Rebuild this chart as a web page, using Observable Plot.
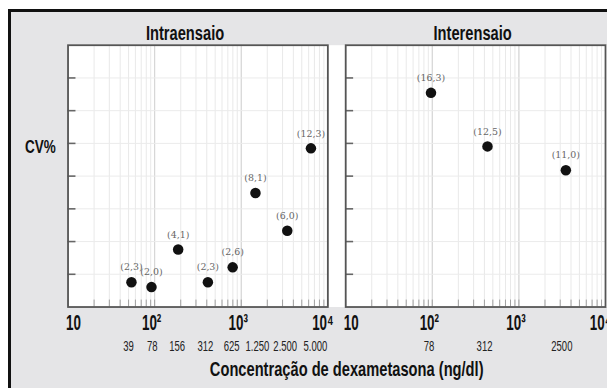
<!DOCTYPE html>
<html><head><meta charset="utf-8">
<script src="https://cdn.jsdelivr.net/npm/d3@7"></script>
<script src="https://cdn.jsdelivr.net/npm/@observablehq/plot@0.6"></script>
<style>
html,body{margin:0;padding:0;background:#fff;overflow:hidden;width:607px;height:388px;}
#wrap{position:absolute;left:8px;top:9px;width:596px;height:376px;border-top:3px solid #111;border-left:3px solid #111;background:#e5e5e7;overflow:hidden;}
#wrap svg{display:block;}
</style></head><body><div id="wrap"></div>
<script>
// ---- data ----
const panels = ["Intraensaio", "Interensaio"];
const intraConc = [54, 92, 187, 412, 796, 1460, 3400, 6380];
const intraCV = [1.89, 1.52, 4.39, 1.89, 3.03, 8.71, 5.83, 12.12];
const intraLabels = ["(2,3)", "(2,0)", "(4,1)", "(2,3)", "(2,6)", "(8,1)", "(6,0)", "(12,3)"];
const intraTickPos = [50, 94, 182, 386, 774, 1538, 3221, 7194];
const intraTickText = ["39", "78", "156", "312", "625", "1.250", "2.500", "5.000"];
const interConc = [96.6, 434, 3484];
const interCV = [16.36, 12.27, 10.45];
const interLabels = ["(16,3)", "(12,5)", "(11,0)"];
const interTickPos = [91.6, 401, 3133];
const interTickText = ["78", "312", "2500"];
const decades = [10, 100, 1000, 10000];
const decadeText = ["10", "10²", "10³", "10⁴"];
const yTicks = [2.5, 5, 7.5, 10, 12.5, 15, 17.5];
const yLabel = "CV%";
const xLabel = "Concentração de dexametasona (ng/dl)";

// ---- tables built from the arrays ----
const points = [
  ...intraConc.map((c, i) => ({panel: panels[0], conc: c, cv: intraCV[i], label: intraLabels[i]})),
  ...interConc.map((c, i) => ({panel: panels[1], conc: c, cv: interCV[i], label: interLabels[i]}))
];
const concTicks = [
  ...intraTickPos.map((c, i) => ({panel: panels[0], pos: c, text: intraTickText[i]})),
  ...interTickPos.map((c, i) => ({panel: panels[1], pos: c, text: interTickText[i]}))
];
const minor = [];
for (const d of decades.slice(0, -1)) for (let k = 1; k < 10; k++) minor.push(k * d);
minor.push(decades[decades.length - 1]);

const cond = '"Liberation Sans Narrow", "Arial Narrow", "Liberation Sans", Arial, sans-serif';
const bold = {fontFamily: cond, fontWeight: "bold", fill: "#111"};

const plot = Plot.plot({
  width: 601, height: 376,
  marginLeft: 57, marginRight: 2, marginTop: 33, marginBottom: 79,
  style: {background: "transparent", overflow: "visible"},
  fx: {domain: panels, paddingInner: 0.0643, paddingOuter: 0, axis: null},
  x: {type: "log", domain: [10, 10000], axis: null},
  y: {domain: [0, 20], axis: null},
  marks: [
    Plot.frame({fill: "white", stroke: null, insetRight: -18}),
    Plot.gridX(minor, {stroke: "#e9e9e9", strokeOpacity: 1}),
    Plot.gridX(decades, {stroke: "#d2d2d2", strokeOpacity: 1}),
    Plot.gridY(yTicks, {stroke: "#ebebeb", strokeOpacity: 1}),
    Plot.tickX(minor, {x: d => d, stroke: "#a0a0a0", insetTop: 257}),
    Plot.tickY(yTicks, {y: d => d, stroke: "#666", strokeWidth: 1.6, insetRight: 254}),
    Plot.frame({stroke: "#555", strokeWidth: 1.8}),
    Plot.dot(points, {fx: "panel", x: "conc", y: "cv", r: 5.3, fill: "#111", stroke: null}),
    Plot.text(points, {fx: "panel", x: "conc", y: "cv", text: "label", dy: -15, fontFamily: "DejaVu Serif", fontSize: 9.5, fill: "#666"}),
    // panel titles
    Plot.text([panels[0]], {fx: d => d, text: d => d, frameAnchor: "top", dx: -13, dy: -12, lineAnchor: "middle", fontSize: 21, ...bold}),
    Plot.text([panels[1]], {fx: d => d, text: d => d, frameAnchor: "top", dx: -3, dy: -12, lineAnchor: "middle", fontSize: 21, ...bold}),
    // decade tick labels
    Plot.text([decades[0]], {x: d => d, text: d => decadeText[decades.indexOf(d)], frameAnchor: "bottom", textAnchor: "start", dx: -2, dy: 16.5, lineAnchor: "middle", fontSize: 22, ...bold}),
    Plot.text(decades.slice(1, 3), {x: d => d, text: d => decadeText[decades.indexOf(d)], frameAnchor: "bottom", dx: -3, dy: 16.5, lineAnchor: "middle", fontSize: 22, ...bold}),
    Plot.text([decades[3]], {x: d => d, text: d => decadeText[decades.indexOf(d)], frameAnchor: "bottom", dx: -5, dy: 16.5, lineAnchor: "middle", fontSize: 22, ...bold}),
    // concentration labels
    Plot.text(concTicks, {fx: "panel", x: "pos", text: "text", frameAnchor: "bottom", dy: 39.5, lineAnchor: "middle", fontFamily: cond, fontSize: 15, fill: "#222"}),
    // axis titles
    Plot.text([xLabel], {fx: () => panels[0], text: d => d, frameAnchor: "bottom", dx: 150, dy: 63, lineAnchor: "middle", fontSize: 20, ...bold}),
    Plot.text([yLabel], {fx: () => panels[0], text: d => d, frameAnchor: "left", dx: -28, dy: -29, textAnchor: "middle", lineAnchor: "middle", fontSize: 18, ...bold})
  ]
});
document.getElementById("wrap").appendChild(plot);

// condense the bold lettering to the widths seen in the reference
const targets = {22: ["10", 15], 15: ["156", 16], 21: [panels[0], 79], 20: [xLabel, 276], 18: [yLabel, 31]};
const texts = Array.from(plot.querySelectorAll("text"));
const factor = {};
for (const [fs, [str, w]] of Object.entries(targets)) {
  const t = texts.find(t => t.textContent === str && Math.round(parseFloat(getComputedStyle(t).fontSize)) === +fs);
  if (t) factor[fs] = w / t.getComputedTextLength();
}
for (const t of texts) {
  const fs = Math.round(parseFloat(getComputedStyle(t).fontSize));
  if (factor[fs]) {
    t.setAttribute("textLength", (t.getComputedTextLength() * factor[fs]).toFixed(2));
    t.setAttribute("lengthAdjust", "spacingAndGlyphs");
  }
}
</script></body></html>
